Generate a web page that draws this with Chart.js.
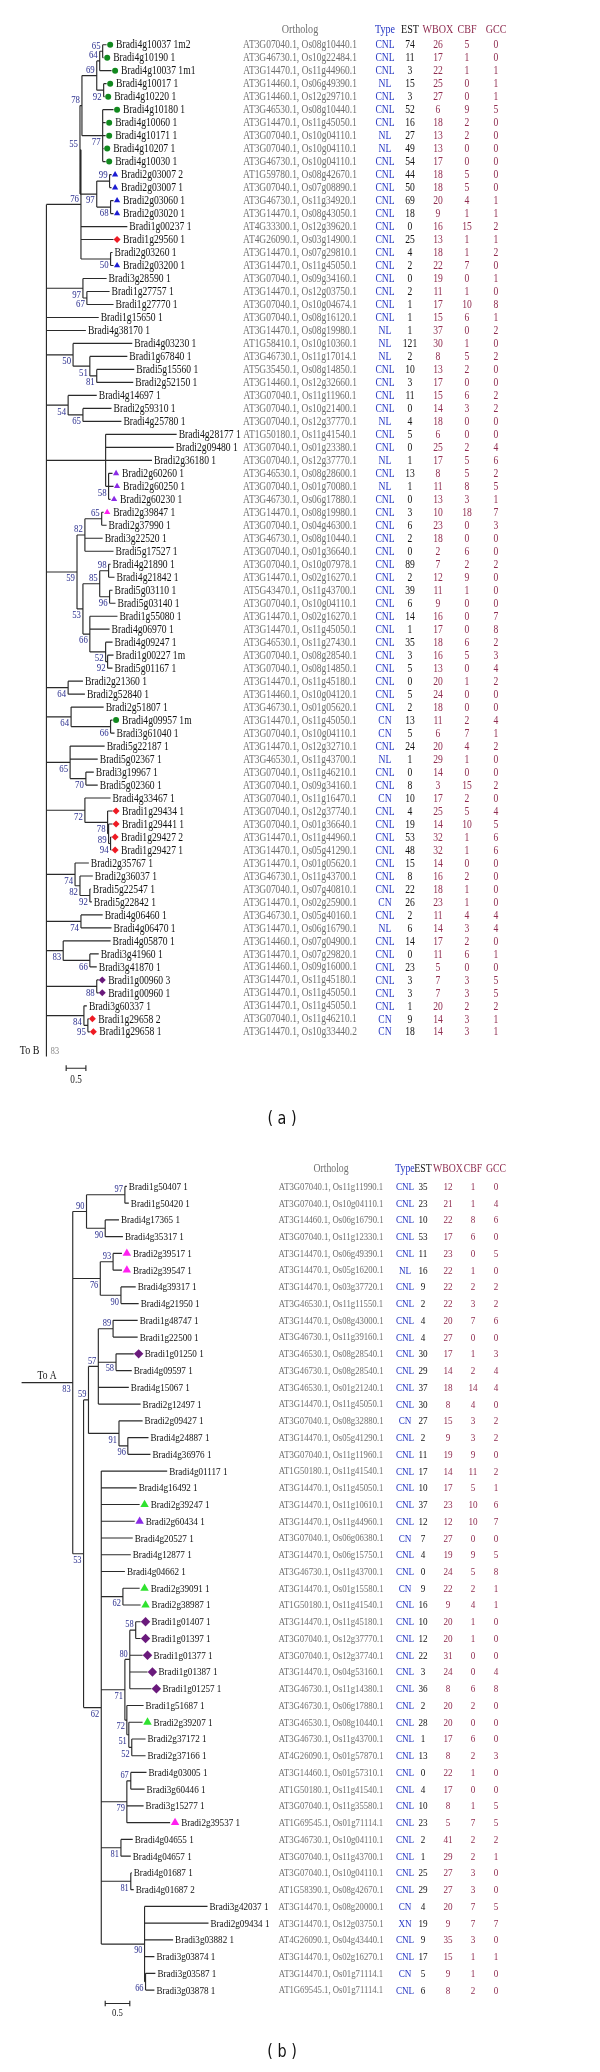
<!DOCTYPE html>
<html><head><meta charset="utf-8">
<script src="https://cdn.jsdelivr.net/npm/chart.js@4.4.1/dist/chart.umd.min.js"></script>
<style>
html,body{margin:0;padding:0;background:#fff;}
#wrapA{position:absolute;left:0;top:0;width:600px;height:1140px;}
#wrapB{position:absolute;left:0;top:1140px;width:600px;height:932px;}
canvas{display:block;}
</style></head><body>
<div id="wrapA"><canvas id="cA" width="600" height="1140"></canvas></div>
<div id="wrapB"><canvas id="cB" width="600" height="932"></canvas></div>
<script>
// ================= PANEL (a) DATA =================
const namesA = ["Bradi4g10037 1m2","Bradi4g10190 1","Bradi4g10037 1m1","Bradi4g10017 1","Bradi4g10220 1","Bradi4g10180 1","Bradi4g10060 1","Bradi4g10171 1","Bradi4g10207 1","Bradi4g10030 1",
"Bradi2g03007 2","Bradi2g03007 1","Bradi2g03060 1","Bradi2g03020 1","Bradi1g00237 1","Bradi1g29560 1","Bradi2g03260 1","Bradi2g03200 1","Bradi3g28590 1","Bradi1g27757 1",
"Bradi1g27770 1","Bradi1g15650 1","Bradi4g38170 1","Bradi4g03230 1","Bradi1g67840 1","Bradi5g15560 1","Bradi2g52150 1","Bradi4g14697 1","Bradi2g59310 1","Bradi4g25780 1",
"Bradi4g28177 1","Bradi2g09480 1","Bradi2g36180 1","Bradi2g60260 1","Bradi2g60250 1","Bradi2g60230 1","Bradi2g39847 1","Bradi2g37990 1","Bradi3g22520 1","Bradi5g17527 1",
"Bradi4g21890 1","Bradi4g21842 1","Bradi5g03110 1","Bradi5g03140 1","Bradi1g55080 1","Bradi4g06970 1","Bradi4g09247 1","Bradi1g00227 1m","Bradi5g01167 1","Bradi2g21360 1",
"Bradi2g52840 1","Bradi2g51807 1","Bradi4g09957 1m","Bradi3g61040 1","Bradi5g22187 1","Bradi5g02367 1","Bradi3g19967 1","Bradi5g02360 1","Bradi4g33467 1","Bradi1g29434 1",
"Bradi1g29441 1","Bradi1g29427 2","Bradi1g29427 1","Bradi2g35767 1","Bradi2g36037 1","Bradi5g22547 1","Bradi5g22842 1","Bradi4g06460 1","Bradi4g06470 1","Bradi4g05870 1",
"Bradi3g41960 1","Bradi3g41870 1","Bradi1g00960 3","Bradi1g00960 1","Bradi3g60337 1","Bradi1g29658 2","Bradi1g29658 1"];
const orthologA = ["AT3G07040.1, Os08g10440.1","AT3G46730.1, Os10g22484.1","AT3G14470.1, Os11g44960.1","AT3G14460.1, Os06g49390.1","AT3G14460.1, Os12g29710.1","AT3G46530.1, Os08g10440.1","AT3G14470.1, Os11g45050.1","AT3G07040.1, Os10g04110.1","AT3G07040.1, Os10g04110.1","AT3G46730.1, Os10g04110.1",
"AT1G59780.1, Os08g42670.1","AT3G07040.1, Os07g08890.1","AT3G46730.1, Os11g34920.1","AT3G14470.1, Os08g43050.1","AT4G33300.1, Os12g39620.1","AT4G26090.1, Os03g14900.1","AT3G14470.1, Os07g29810.1","AT3G14470.1, Os11g45050.1","AT3G07040.1, Os09g34160.1","AT3G14470.1, Os12g03750.1",
"AT3G07040.1, Os10g04674.1","AT3G07040.1, Os08g16120.1","AT3G14470.1, Os08g19980.1","AT1G58410.1, Os10g10360.1","AT3G46730.1, Os11g17014.1","AT5G35450.1, Os08g14850.1","AT3G14460.1, Os12g32660.1","AT3G07040.1, Os11g11960.1","AT3G07040.1, Os10g21400.1","AT3G07040.1, Os12g37770.1",
"AT1G50180.1, Os11g41540.1","AT3G07040.1, Os01g23380.1","AT3G07040.1, Os12g37770.1","AT3G46530.1, Os08g28600.1","AT3G07040.1, Os01g70080.1","AT3G46730.1, Os06g17880.1","AT3G14470.1, Os08g19980.1","AT3G07040.1, Os04g46300.1","AT3G46730.1, Os08g10440.1","AT3G07040.1, Os01g36640.1",
"AT3G07040.1, Os10g07978.1","AT3G14470.1, Os02g16270.1","AT5G43470.1, Os11g43700.1","AT3G07040.1, Os10g04110.1","AT3G14470.1, Os02g16270.1","AT3G14470.1, Os11g45050.1","AT3G46530.1, Os11g27430.1","AT3G07040.1, Os08g28540.1","AT3G07040.1, Os08g14850.1","AT3G14470.1, Os11g45180.1",
"AT3G14460.1, Os10g04120.1","AT3G46730.1, Os01g05620.1","AT3G14470.1, Os11g45050.1","AT3G07040.1, Os10g04110.1","AT3G14470.1, Os12g32710.1","AT3G46530.1, Os11g43700.1","AT3G07040.1, Os11g46210.1","AT3G07040.1, Os09g34160.1","AT3G07040.1, Os11g16470.1","AT3G07040.1, Os12g37740.1",
"AT3G07040.1, Os01g36640.1","AT3G14470.1, Os11g44960.1","AT3G14470.1, Os05g41290.1","AT3G14470.1, Os01g05620.1","AT3G46730.1, Os11g43700.1","AT3G07040.1, Os07g40810.1","AT3G14470.1, Os02g25900.1","AT3G46730.1, Os05g40160.1","AT3G14470.1, Os06g16790.1","AT3G14460.1, Os07g04900.1",
"AT3G14470.1, Os07g29820.1","AT3G14460.1, Os09g16000.1","AT3G14470.1, Os11g45180.1","AT3G14470.1, Os11g45050.1","AT3G14470.1, Os11g45050.1","AT3G07040.1, Os11g46210.1","AT3G14470.1, Os10g33440.2"];
const typeA = ["CNL","CNL","CNL","NL","CNL","CNL","CNL","NL","NL","CNL","CNL","CNL","CNL","CNL","CNL","CNL","CNL","CNL","CNL","CNL","CNL","CNL","NL","NL","NL","CNL","CNL","CNL","CNL","NL","CNL","CNL","NL","CNL","NL","CNL","CNL","CNL","CNL","CNL","CNL","CNL","CNL","CNL","CNL","CNL","CNL","CNL","CNL","CNL","CNL","CNL","CN","CN","CNL","NL","CNL","CNL","CN","CNL","CNL","CNL","CNL","CNL","CNL","CNL","CN","CNL","NL","CNL","CNL","CNL","CNL","CNL","CNL","CN","CN"];
const estA = [74,11,3,15,3,52,16,27,49,54,44,50,69,18,0,25,4,2,0,2,1,1,1,121,2,10,3,11,0,4,5,0,1,13,1,0,3,6,2,0,89,2,39,6,14,1,35,3,5,0,5,2,13,5,24,1,0,8,10,4,19,53,48,15,8,22,26,2,6,14,0,23,3,3,1,9,18];
const wboxA = [26,17,22,25,27,6,18,13,13,17,18,18,20,9,16,13,18,22,19,11,17,15,37,30,8,13,17,15,14,18,6,25,17,8,11,13,10,23,18,2,7,12,11,9,16,17,18,16,13,20,24,18,11,6,20,29,14,3,17,25,14,32,32,14,16,18,23,11,14,17,11,5,7,7,20,14,14];
const cbfA = [5,1,1,0,0,9,2,2,0,0,5,5,4,1,15,1,1,7,0,1,10,6,0,1,5,2,0,6,3,0,0,2,5,5,8,3,18,0,0,6,2,9,1,0,0,0,6,5,0,1,0,0,2,7,4,1,0,15,2,5,10,1,1,0,2,1,1,4,3,2,6,0,3,3,2,3,3];
const gccA = [0,0,1,1,1,5,0,0,0,0,0,0,1,1,2,1,2,0,1,0,8,1,2,0,2,0,0,2,2,0,0,4,6,2,5,1,7,3,0,0,2,0,0,0,7,8,2,3,4,2,0,0,4,1,2,0,0,2,0,4,5,6,6,0,0,0,0,4,4,0,1,0,5,5,2,1,1];
const markerA = ["gc","gc","gc","gc","gc","gc","gc","gc","gc","gc","bt","bt","bt","bt","","rd","","bt","","","","","","","","","","","","","","","","pt","pt","pt","mt","","","","","","","","","","","","","","","","gc","","","","","","","rd","rd","rd","rd","","","","","","","","","","pd","pd","","rd","rd"];
// leaf branch ends (tree units; the scale bar is 0.5)
const tipA = [1.525,1.45,1.65,1.525,1.475,1.7,1.5,1.5,1.45,1.5,1.65,1.65,1.7,1.7,2.05,1.7,1.675,1.7,1.525,1.6,1.7,1.325,1.0,2.175,2.05,2.225,2.2,1.275,1.65,1.9,3.3,3.225,2.675,1.675,1.7,1.625,1.45,1.525,1.425,1.7,1.625,1.725,1.675,1.75,1.8,1.6,1.675,1.7,1.675,0.925,0.975,1.45,1.675,1.725,1.475,1.3,1.2,1.3,1.625,1.675,1.675,1.65,1.65,1.075,1.175,1.125,1.15,1.425,1.65,1.625,1.325,1.275,1.325,1.325,1.025,1.075,1.1];
const nodeIdA = ["N1","N2","N3","N4","N5","N6","N7","N8","N9","P0","N10","P","N11","N12","N13","N14","N15","N16","N17","N18","N19","N20","N21","N22","N23","N24","N25","N26","N27","N28","N29","N30","N31","N32","N33","N34","N35","N36","N37","N38","N39","N40","N41","N42","N43","N44","N45","N46","N47","ROOT"];
const nodeDepthA = [1.425,1.35,1.45,1.275,1.425,0.9,1.6,1.625,1.275,0.85,1.625,0.875,1.025,0.925,1.275,1.1,0.675,0.925,0.55,1.575,1.5,1.4,0.975,1.575,1.6,1.35,1.55,1.5,1.1,0.925,0.775,0.55,1.625,0.625,1.0,0.6,1.625,1.575,1.55,0.975,1.1,0.85,0.725,0.875,1.1,0.425,1.275,1.05,0.95,0];
const nodeKidsA = [[0,1],["N1",2],[3,4],["N2","N3"],[5,6,7,8,9],["N4","N5"],[10,11],[12,13],["N7","N8"],["N6","N9"],[16,17],["P0",14,15,"N10"],[19,20],[18,"N11"],[25,26],[24,"N13"],[23,"N14"],[28,29],[27,"N16"],[33,34,35],[30,31,32,"N18"],[36,37],["N20",38,39],[40,41],[42,43],["N22","N23"],[47,48],[46,"N25"],[44,45,"N26"],["N24","N27"],["N21","N28"],[49,50],[52,53],[51,"N31"],[56,57],[54,55,"N33"],[61,62],[60,"N35"],[59,"N36"],[58,"N37"],[65,66],[64,"N39"],[63,"N40"],[67,68],[70,71],[69,"N43"],[72,73],[75,76],[74,"N46"],["P","N12",21,22,"N15","N17","N19","N29","N30","N32","N34","N38","N41","N42","N44","N45","N47"]];
const nodeSupportA = [65,64,92,69,77,78,99,68,97,55,50,76,67,97,81,51,50,65,54,58,null,65,82,98,96,85,92,52,66,53,59,64,66,64,70,65,94,89,78,72,92,82,74,74,66,83,88,95,84,null];
const linkLabelA = ["To B","83"];

// ================= PANEL (b) DATA =================
const namesB = ["Bradi1g50407 1","Bradi1g50420 1","Bradi4g17365 1","Bradi4g35317 1","Bradi2g39517 1","Bradi2g39547 1","Bradi4g39317 1","Bradi4g21950 1","Bradi1g48747 1","Bradi1g22500 1",
"Bradi1g01250 1","Bradi4g09597 1","Bradi4g15067 1","Bradi2g12497 1","Bradi2g09427 1","Bradi4g24887 1","Bradi4g36976 1","Bradi4g01117 1","Bradi4g16492 1","Bradi2g39247 1",
"Bradi2g60434 1","Bradi4g20527 1","Bradi4g12877 1","Bradi4g04662 1","Bradi2g39091 1","Bradi2g38987 1","Bradi1g01407 1","Bradi1g01397 1","Bradi1g01377 1","Bradi1g01387 1",
"Bradi1g01257 1","Bradi1g51687 1","Bradi2g39207 1","Bradi2g37172 1","Bradi2g37166 1","Bradi4g03005 1","Bradi3g60446 1","Bradi3g15277 1","Bradi2g39537 1","Bradi4g04655 1",
"Bradi4g04657 1","Bradi4g01687 1","Bradi4g01687 2","Bradi3g42037 1","Bradi2g09434 1","Bradi3g03882 1","Bradi3g03874 1","Bradi3g03587 1","Bradi3g03878 1"];
const orthologB = ["AT3G07040.1, Os11g11990.1","AT3G07040.1, Os10g04110.1","AT3G14460.1, Os06g16790.1","AT3G07040.1, Os11g12330.1","AT3G14470.1, Os06g49390.1","AT3G14470.1, Os05g16200.1","AT3G14470.1, Os03g37720.1","AT3G46530.1, Os11g11550.1","AT3G14470.1, Os08g43000.1","AT3G46730.1, Os11g39160.1",
"AT3G46530.1, Os08g28540.1","AT3G46730.1, Os08g28540.1","AT3G46530.1, Os01g21240.1","AT3G14470.1, Os11g45050.1","AT3G07040.1, Os08g32880.1","AT3G14470.1, Os05g41290.1","AT3G07040.1, Os11g11960.1","AT1G50180.1, Os11g41540.1","AT3G14470.1, Os11g45050.1","AT3G14470.1, Os11g10610.1",
"AT3G14470.1, Os11g44960.1","AT3G07040.1, Os06g06380.1","AT3G14470.1, Os06g15750.1","AT3G46730.1, Os11g43700.1","AT3G14470.1, Os01g15580.1","AT1G50180.1, Os11g41540.1","AT3G14470.1, Os11g45180.1","AT3G07040.1, Os12g37770.1","AT3G07040.1, Os12g37740.1","AT3G14470.1, Os04g53160.1",
"AT3G46730.1, Os11g14380.1","AT3G46730.1, Os06g17880.1","AT3G46530.1, Os08g10440.1","AT3G46730.1, Os11g43700.1","AT4G26090.1, Os01g57870.1","AT3G14460.1, Os01g57310.1","AT1G50180.1, Os11g41540.1","AT3G07040.1, Os11g35580.1","AT1G69545.1, Os01g71114.1","AT3G46730.1, Os10g04110.1",
"AT3G07040.1, Os11g43700.1","AT3G07040.1, Os10g04110.1","AT1G58390.1, Os08g42670.1","AT3G14470.1, Os08g20000.1","AT3G14470.1, Os12g03750.1","AT4G26090.1, Os04g43440.1","AT3G14470.1, Os02g16270.1","AT3G14470.1, Os01g71114.1","AT1G69545.1, Os01g71114.1"];
const typeB = ["CNL","CNL","CNL","CNL","CNL","NL","CNL","CNL","CNL","CNL","CNL","CNL","CNL","CNL","CN","CNL","CNL","CNL","CNL","CNL","CNL","CN","CNL","CNL","CN","CNL","CNL","CNL","CNL","CNL","CNL","CNL","CNL","CNL","CNL","CNL","CNL","CNL","CNL","CNL","CNL","CNL","CNL","CN","XN","CNL","CNL","CN","CNL"];
const estB = [35,23,10,53,11,16,9,2,4,4,30,29,37,30,27,2,11,17,10,37,12,7,4,0,9,16,10,12,22,3,36,2,28,1,13,0,4,10,23,2,1,25,29,4,19,9,17,5,6];
const wboxB = [12,21,22,17,23,22,22,22,20,27,17,14,18,8,15,9,19,14,17,23,12,27,19,24,22,9,20,20,31,24,8,20,20,17,8,22,17,8,5,41,29,27,27,20,9,35,15,9,8];
const cbfB = [1,1,8,6,0,1,2,3,7,0,1,2,14,4,3,3,9,11,5,10,10,0,9,5,2,4,1,1,0,0,6,2,0,6,2,1,0,1,7,2,2,3,3,7,7,3,1,1,2];
const gccB = [0,4,6,0,5,0,2,2,6,0,3,4,4,0,2,2,0,2,1,6,7,0,5,8,1,1,0,0,0,4,8,0,0,0,3,0,0,5,5,2,1,0,0,5,7,0,1,0,0];
const markerB = ["","","","","mt","mt","","","","","pd","","","","","","","","","gt","pt","","","","gt","gt","pd","pd","pd","pd","pd","","gt","","","","","","mt","","","","","","","","","",""];
const tipB = [1.1,1.14,0.94,1.02,1.0,1.0,1.28,1.34,1.32,1.32,1.24,1.2,1.14,1.38,1.42,1.54,1.58,1.92,1.3,1.36,1.26,1.22,1.18,1.06,1.36,1.38,1.38,1.38,1.42,1.52,1.6,1.44,1.42,1.48,1.48,1.5,1.46,1.44,1.98,1.22,1.18,1.2,1.24,2.74,2.76,2.04,1.66,1.68,1.66];
const nodeIdB = ["M1","M2","M3","M4","M5","M6","V1a","V1b","V1","V2b","V2","V","W1","Y1","Y2","Y6","Y5","Y4","Y","Z1","Z","W4","W5","W7","W6","W","U","R"];
const nodeDepthB = [1.06,0.66,0.28,0.82,0.98,0.56,0.82,0.88,0.52,1.12,0.94,0.32,1.02,1.28,1.16,1.2,1.14,1.1,1.06,1.18,1.1,0.98,1.18,1.48,1.46,0.58,0.22,0];
const nodeKidsB = [[0,1],[2,3],["M1","M2"],[4,5],[6,7],["M4","M5"],[8,9],[10,11],["V1a","V1b",12,13],[15,16],[14,"V2b"],["V1","V2"],[24,25],[26,27],["Y1",28,29,30],[33,34],[32,"Y6"],[31,"Y5"],["Y2","Y4"],[35,36],["Z1",37,38],[39,40],[41,42],[47,48],[43,44,45,46,"W7"],[17,18,19,20,21,22,23,"W1","Y","Z","W4","W5","W6"],["V","W"],["M3","M6","U"]];
const nodeSupportB = [97,90,90,93,90,76,89,58,57,96,91,59,62,58,80,52,51,72,71,67,79,81,81,66,90,62,53,83];
const linkLabelB = ["To A"];

const headers = ["Ortholog","Type","EST","WBOX","CBF","GCC"];
const scaleBarLength = 0.5;

// ================= STYLE / LAYOUT =================
const MARK = {
  gc:{s:'circle',  c:'#12891f', r:3.0},
  bt:{s:'triangle',c:'#1c1cd2', r:3.6},
  rd:{s:'rectRot', c:'#ee1b24', r:3.5},
  pt:{s:'triangle',c:'#8b2be6', r:3.6},
  mt:{s:'triangle',c:'#ff1ff0', r:3.6},
  pd:{s:'rectRot', c:'#6a1a7c', r:3.5},
  gt:{s:'triangle',c:'#2fe22f', r:3.6}
};
const COLCOL = ['#6f6f6f','#2536c4','#111111','#8e2a4e','#8e2a4e','#8e2a4e'];
const SERIF = '"Liberation Serif", "DejaVu Serif", serif';
const SX = 0.8; // horizontal squeeze of the original figure's lettering

const panelA = {
  names:namesA, cols:[orthologA,typeA,estA,wboxA,cbfA,gccA], markers:markerA, tips:tipA,
  nodeIds:nodeIdA, nodeDepth:nodeDepthA, nodeKids:nodeKidsA, nodeSupport:nodeSupportA,
  xMin:-1.075, xMax:13.925, yMin:-3.1346, yMax:84.02,
  colX:[300,385,410,438,467,496], headRow:-1.15,
  nameFont:12, orthoFont:11.8, valFont:12, headFont:12.6, bootFont:11,
  markOff:3.6, textOffMark:9.5, textOff:2, markScale:1,
  linkType:'down', linkRow:77.9, linkTextRow:77.45, linkLabels:linkLabelA,
  barStart:0.5, barRow:78.8, barTextRow:79.7, caption:'( a )', captionRow:82.7, captionX:282
};
const panelB = {
  names:namesB, cols:[orthologB,typeB,estB,wboxB,cbfB,gccB], markers:markerB, tips:tipB,
  nodeIds:nodeIdB, nodeDepth:nodeDepthB, nodeKids:nodeKidsB, nodeSupport:nodeSupportB,
  xMin:-1.38, xMax:10.62, yMin:-2.482, yMax:52.6,
  colX:[331,405,423,448,473,496], headRow:-1.06,
  nameFont:11.4, orthoFont:10.9, valFont:11.4, headFont:12.2, bootFont:10.5,
  markOff:5, textOffMark:11, textOff:2, markScale:1.35,
  linkType:'left', linkFrom:-1.04, linkLabels:linkLabelB,
  barStart:0.66, barRow:48.8, barTextRow:49.4, caption:'( b )', captionRow:51.7, captionX:282
};

function layout(p){
  const pos = {}, parent = {};
  p.tips.forEach((t,i)=>{pos[i]={x:t,y:i};});
  const idx = {}; p.nodeIds.forEach((id,k)=>idx[id]=k);
  function place(id){
    if (pos[id]) return pos[id];
    const k = idx[id];
    const kids = p.nodeKids[k].map(c=>{parent[c]=id; return place(c);});
    pos[id] = {x:p.nodeDepth[k], y:(kids[0].y+kids[kids.length-1].y)/2, kids:kids, kidIds:p.nodeKids[k]};
    return pos[id];
  }
  p.nodeIds.forEach(place);
  return {pos, parent};
}

function buildDatasets(p){
  const L = layout(p); p._L = L;
  const seg = [];
  const add = (x1,y1,x2,y2)=>{seg.push({x:x1,y:y1},{x:x2,y:y2},{x:null,y:null});};
  const rootId = p.nodeIds[p.nodeIds.length-1];
  p.nodeIds.forEach(id=>{
    const n = L.pos[id];
    const ys = n.kids.map(c=>c.y);
    let y0 = Math.min(...ys), y1 = Math.max(...ys);
    if (id===rootId && p.linkType==='down') y1 = Math.max(y1, p.linkRow);
    add(n.x,y0,n.x,y1);
    n.kids.forEach(c=>add(n.x,c.y,c.x,c.y));
  });
  if (p.linkType==='left'){ const r = L.pos[rootId]; add(p.linkFrom,r.y,r.x,r.y); }
  const tick = p.linkType==='down'?0.22:0.16;
  add(p.barStart,p.barRow,p.barStart+scaleBarLength,p.barRow);
  add(p.barStart,p.barRow-tick,p.barStart,p.barRow+tick);
  add(p.barStart+scaleBarLength,p.barRow-tick,p.barStart+scaleBarLength,p.barRow+tick);
  const ds = [{data:seg, showLine:true, pointRadius:0, borderColor:'#2a2a2a', borderWidth:1.15, spanGaps:false, order:2}];
  const pxPerUnit = 600/(p.xMax-p.xMin);
  Object.keys(MARK).forEach(code=>{
    const pts = [];
    p.markers.forEach((m,i)=>{ if(m===code) pts.push({x:p.tips[i]+p.markOff/pxPerUnit, y:i}); });
    if (pts.length) ds.push({data:pts, showLine:false, pointStyle:MARK[code].s, pointRadius:MARK[code].r*p.markScale,
      backgroundColor:MARK[code].c, borderColor:MARK[code].c, borderWidth:0, order:1});
  });
  return ds;
}

function txt(ctx, s, x, y, align, sx){
  ctx.save(); ctx.translate(x,y); ctx.scale(sx,1); ctx.textAlign=align; ctx.fillText(s,0,0); ctx.restore();
}

function textPlugin(p){
  return {id:'treeText', afterDatasetsDraw(chart){
    const ctx = chart.ctx, xs = chart.scales.x, ys = chart.scales.y, L = p._L;
    const rootId = p.nodeIds[p.nodeIds.length-1];
    ctx.save();
    ctx.textBaseline = 'middle';
    ctx.font = p.headFont+'px '+SERIF;
    headers.forEach((h,j)=>{ ctx.fillStyle = COLCOL[j]; txt(ctx,h,p.colX[j],ys.getPixelForValue(p.headRow),'center',SX); });
    ctx.font = p.nameFont+'px '+SERIF; ctx.fillStyle='#111';
    p.names.forEach((n,i)=>{
      const px = xs.getPixelForValue(p.tips[i]) + (p.markers[i]?p.textOffMark:p.textOff);
      txt(ctx,n,px,ys.getPixelForValue(i)+0.5,'left',SX);
    });
    p.cols.forEach((col,j)=>{
      ctx.font = (j===0?p.orthoFont:p.valFont)+'px '+SERIF;
      ctx.fillStyle = COLCOL[j];
      col.forEach((v,i)=>txt(ctx,String(v),p.colX[j],ys.getPixelForValue(i)+0.5,'center',SX));
    });
    ctx.font = p.bootFont+'px '+SERIF; ctx.fillStyle='#2b2f8f';
    p.nodeIds.forEach((id,k)=>{
      const s = p.nodeSupport[k]; if (s===null) return;
      const n = L.pos[id]; const par = L.parent[id];
      let first = false;
      if (par!==undefined){ first = L.pos[par].kidIds[0]===id; }
      const dy = first ? -5.5 : 6.5;
      txt(ctx,String(s),xs.getPixelForValue(n.x)-2,ys.getPixelForValue(n.y)+dy,'right',SX);
    });
    const r = L.pos[rootId];
    ctx.font = (p.nameFont+0.5)+'px '+SERIF;
    if (p.linkType==='down'){
      ctx.fillStyle='#111';
      txt(ctx,p.linkLabels[0],xs.getPixelForValue(r.x)-7,ys.getPixelForValue(p.linkTextRow),'right',SX);
      ctx.fillStyle='#8a8a8a'; ctx.font = p.bootFont+'px '+SERIF;
      txt(ctx,p.linkLabels[1],xs.getPixelForValue(r.x)+4,ys.getPixelForValue(p.linkTextRow),'left',SX);
    } else {
      ctx.fillStyle='#111';
      txt(ctx,p.linkLabels[0],(xs.getPixelForValue(p.linkFrom)+xs.getPixelForValue(r.x))/2,ys.getPixelForValue(r.y)-7,'center',SX);
    }
    ctx.font = (p.nameFont-0.5)+'px '+SERIF; ctx.fillStyle='#222';
    txt(ctx,String(scaleBarLength),xs.getPixelForValue(p.barStart+scaleBarLength/2),ys.getPixelForValue(p.barTextRow),'center',SX);
    ctx.font = '18px "DejaVu Sans", sans-serif'; ctx.fillStyle='#111';
    txt(ctx,p.caption,p.captionX,ys.getPixelForValue(p.captionRow),'center',SX);
    ctx.restore();
  }};
}

function makeChart(canvasId, p){
  return new Chart(document.getElementById(canvasId), {
    type:'scatter',
    data:{datasets:buildDatasets(p)},
    options:{
      responsive:false, animation:false, events:[], devicePixelRatio:1,
      layout:{padding:0},
      plugins:{legend:{display:false}, tooltip:{enabled:false}},
      scales:{
        x:{type:'linear', min:p.xMin, max:p.xMax, display:false},
        y:{type:'linear', min:p.yMin, max:p.yMax, reverse:true, display:false}
      }
    },
    plugins:[textPlugin(p)]
  });
}
makeChart('cA', panelA);
makeChart('cB', panelB);
</script>
</body></html>
